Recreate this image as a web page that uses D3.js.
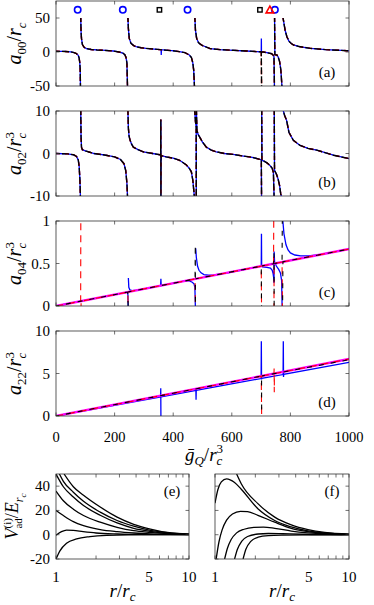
<!DOCTYPE html>
<html>
<head>
<meta charset="utf-8">
<script src="https://cdn.jsdelivr.net/npm/d3@7"></script>
<style>
  body { margin: 0; background: #fff; }
  svg { display: block; }
</style>
</head>
<body>
<svg id="chart" width="374" height="605"></svg>
<script>
// ---------- DATA ----------
var gTicks = [0, 200, 400, 600, 800, 1000];

// (a) a00/rc : background shared by every series, null = break at a pole
var a00_base = [
  [0,1],[30,0.8],[50,0.3],[62,-1],[70,-2.5],[76,-5],[79,-9],[81,-15],[82.5,-25],[83.5,-50],[84,null],
  [84.5,50],[85.5,30],[87,20],[90,11],[96,7],[104,5],[120,3.7],[140,3],[170,2.3],[195,1.5],[215,0],
  [228,-1.5],[235,-4],[239,-8],[242,-16],[244,-50],[244.5,null],
  [245.5,50],[247,35],[250,20],[256,12.7],[265,9.5],[273,7.8],[290,6.3],[307,5.4],[335,4.3],[355,3.5],
  [365,3],[395,2],[421,0.5],[440,-1],[455,-4.4],[462,-8],[467,-16],[470,-27],[472.5,-50],[473,null],
  [474,50],[476,32],[480,20],[486,14],[491,12],[500,9.5],[526,5],[560,3.5],[606,2.5],[650,1.5],[697,0.3],
  [708,0],[720,-1],[736,-2.5],[741,-4.5],[744,-7],[745.5,-50],[745.7,null],[746,50],[747,-4],
  [754,-4.4],[758,-7],[763,-13.7],[767,-25],[769,-36],[771,-50],[772,null],
  [775,50],[778,42],[782,32],[788,22.5],[795,16],[803,12.5],[811,10.3],[830,8],[868,5.4],[920,3.5],
  [993,1.9],[1000,1.8]
];
var a00_blueSpikes  = [[358.6,3.4],[359.2,-4.5],[359.8,3.2],[700.5,0.2],[700.9,20],[701.3,-2],[701.8,0.1]];
var a00_blackSpikes = [[700.5,0.2],[701.7,-50],[701.9,null],[702.3,0.1]];

// markers at the top of (a)
var circG   = [74, 228, 449, 747];
var squareG = [353, 696];
var triG    = [730];
var markerY = 62;

// (b) a02/rc^3
var a02_base = [
  [0,0],[40,-0.1],[60,-0.3],[70,-0.7],[76,-1.5],[79,-3],[81.5,-6],[83.3,-10],[83.8,null],
  [84.5,10],[85.5,4],[87,1.5],[90,0.9],[100,0.6],[115,0.3],[130,0],[170,-0.4],[200,-0.8],[220,-1.4],
  [232,-2.4],[238,-4],[242,-7],[244,-10],[244.5,null],
  [245.5,10],[247,6],[249.5,4],[253,3.1],[258,2.2],[264,1.5],[280,0.9],[298,0.4],[330,0],[355,-0.3],
  [357.3,-0.3],[357.8,8],[358.1,-10],[358.4,-2],[359,-0.5],
  [376,-0.8],[400,-1.1],[422,-1.6],[445,-2.7],[455,-3.5],[462,-4.3],[467,-6.3],[470,-8.5],[472,-10],[472.5,null],
  [473.5,10],[476,7.5],[478.5,6.2],[478.8,-10],[479,null],[479.3,10],[481,5.5],[485,4.5],[490,3.9],
  [500,2.7],[513,1.5],[530,0.8],[547,0.4],[575,0],[604,-0.2],[640,-0.6],[670,-0.9],[696,-1.4],
  [700.8,-1.5],[701.5,-10],[701.7,null],[702.1,10],[702.8,-1.6],
  [710,-1.8],[720,-2.2],[730,-2.8],[738,-3.5],[742,-4.5],[744.3,-10],[744.5,null],[744.9,10],[745.8,-4],
  [752,-4.8],[758,-6],[763,-7.5],[767,-9.5],[773,-11],[773.3,null],
  [773.6,11],[776,10],[780,9],[787,7.8],[795,5],[810,3.1],[833,1.9],[860,1.2],[890,0.8],[947,-0.4],[1000,-1.2]
];

// (c) a04/rc^3
var a04_magenta = [[0,0],[1000,0.67]];
var a04_black = [
  [0,0],[245,0.164],[246.6,-0.05],[246.8,null],[247.2,0.166],[474.5,0.318],[475.5,0.72],[476,-0.05],
  [476.2,null],[476.8,0.32],[700.5,0.469],[701.6,-0.05],[701.8,null],[702.3,0.471],[743,0.498],
  [744,0.62],[744.6,-0.05],[744.8,null],[745.5,0.5],[771.5,0.517],[772.5,1.05],[772.7,null],
  [773.2,-0.05],[774.5,0.52],[1000,0.67]
];
var a04_red = [
  [0,0],[84.2,0.056],[84.7,1.05],[84.9,null],[85.3,-0.05],[85.8,0.057],[245,0.164],[246.6,-0.05],
  [246.8,null],[247.2,0.166],[474.5,0.318],[476,-0.05],[476.2,null],[476.8,0.32],[700.5,0.469],
  [701.6,-0.05],[701.8,null],[702.3,0.471],[742.5,0.497],[743.2,1.05],[743.4,null],[743.8,-0.05],
  [744.5,0.499],[771.5,0.517],[772.8,-0.05],[773,null],[773.5,0.518],[1000,0.67]
];
var a04_blue = [
  [0,0],[243,0.163],[245.5,0.13],[246.5,-0.05],[246.7,null],[247,0.33],[248.5,0.22],[252,0.19],
  [260,0.182],[275,0.186],[300,0.2],[357,0.239],[358,0.32],[358.8,0.25],[360,0.241],[440,0.295],
  [455,0.295],[465,0.28],[471,0.26],[474,0.22],[476,-0.05],[476.2,null],[476.8,0.68],[479,0.57],
  [483,0.47],[488,0.42],[495,0.39],[505,0.37],[520,0.362],[540,0.365],[570,0.38],[600,0.4],
  [700.5,0.469],[701.2,0.85],[701.9,0.47],[705,0.46],[720,0.455],[732,0.445],[738,0.42],[741,0.38],
  [743,0.33],[744,0.27],[744.5,0.64],[746,0.52],[752,0.47],[760,0.43],[766,0.39],[770,0.3],
  [772,-0.05],[772.2,null],[773,1.05],[778,0.85],[785,0.72],[792,0.66],[800,0.625],[815,0.6],
  [835,0.59],[860,0.59],[900,0.605],[1000,0.67]
];

// (d) a22/rc^3
var a22_magenta = [[0,0],[1000,6.7]];
var a22_black = [[0,0],[700.5,4.69],[701.5,4.72],[701.9,-0.2],[702.1,null],[702.5,4.71],[1000,6.62]];
var a22_red = [[0,0],[700.5,4.69],[701.9,-0.2],[702.1,null],[702.5,4.71],[744,4.99],[744.4,5.6],
  [745,2.8],[745.4,4.99],[1000,6.7]];
var a22_blue = [
  [0,0],[357,2.25],[357.5,3.25],[358.1,-0.2],[358.3,null],[358.8,2.26],[477,3.0],[477.4,3.2],
  [478,1.9],[478.6,3.01],[700,4.41],[700.8,8.8],[701.5,4.3],[702.2,4.42],[775,4.88],[775.8,8.8],
  [776.5,4.6],[777.2,4.9],[1000,6.3]
];

// (e) adiabatic potentials, [r/rc, V/E]
var e_curves = [
  [[1,-20],[1.07,-13.3],[1.2,-7],[1.43,-3.5],[1.8,-1.6],[2.4,-0.5],[3.5,-0.1],[10,0]],
  [[1,-0.5],[1.1,2.5],[1.2,3.8],[1.35,3.5],[1.6,2.5],[2,1.4],[2.9,0.6],[4,0.2],[10,0]],
  [[1,20],[1.136,15.8],[1.35,10.8],[1.61,7.5],[2.15,4.2],[2.88,2.5],[3.84,1.4],[5.13,0.6],[7,0.2],[10,0.05]],
  [[1,36],[1.136,28],[1.35,21],[1.61,15.8],[2.15,10.3],[2.88,6.1],[3.84,3.3],[5.13,1.9],[6.87,0.8],[10,0.2]],
  [[1,50],[1.136,39.5],[1.35,31],[1.61,24],[2.15,16],[2.88,9.7],[3.84,5.3],[5.13,2.8],[6.87,1.1],[10,0.3]],
  [[1.06,50],[1.136,44],[1.35,35],[1.61,27.5],[2.15,18.6],[2.88,11.7],[3.84,7],[5.13,3.6],[6.87,1.7],[10,0.4]],
  [[1.15,50],[1.35,39.5],[1.61,32.5],[2.15,22.8],[2.88,14.5],[3.84,8.6],[5.13,4.7],[6.87,1.9],[10,0.5]]
];

// (f)
var f_curves = [
  [[1,26],[1.05,37],[1.115,43.5],[1.22,46],[1.4,43],[1.57,37.5],[2.09,21.4],[2.79,11.7],[3.71,6.4],[4.94,3.1],[6.59,1.4],[10,0.3]],
  [[1.45,50],[1.57,42],[2.09,25.6],[2.79,14.5],[3.71,8.1],[4.94,4.2],[6.59,1.9],[10,0.5]],
  [[1.02,-20],[1.07,-6],[1.13,4],[1.22,12],[1.35,17],[1.55,19.3],[1.75,19],[2.09,16],[2.79,10.3],[3.71,5.3],[4.94,2.5],[6.59,1.1],[10,0.2]],
  [[1.18,-20],[1.24,-11],[1.32,-4],[1.45,1.5],[1.65,4.5],[1.95,6],[2.3,6.3],[2.79,5.3],[3.71,3],[4.94,1.5],[6.59,0.6],[10,0.1]],
  [[1.4,-20],[1.47,-12],[1.58,-5.5],[1.75,-1.5],[2.1,0.6],[2.5,1],[3.2,0.8],[4.5,0.4],[10,0]],
  [[1.62,-20],[1.7,-12],[1.85,-5.5],[2.1,-2],[2.5,-0.7],[3.2,-0.3],[5,-0.1],[10,0]]
];
var rTicks = [1, 5, 10];
var rMinor = [2, 3, 4, 6, 7, 8, 9];
var vTicks = [-20, 0, 20, 40];

// ---------- LAYOUT ----------
var FONT = "'Liberation Serif'";
var svg = d3.select("#chart").style("font-family", FONT);
var axisCol = "#333";
var tickLen = 3.5;
var x = d3.scaleLinear().domain([0, 1000]).range([56, 349]);

function merge(base, extra) {
  return base.concat(extra).sort((p, q) => p[0] - q[0]);
}

function txt(sel) {
  return sel.append("text").style("font-family", FONT);
}

function mathText(sel, parts) {
  parts.forEach(p => {
    sel.append("tspan")
      .text(p[0])
      .style("font-family", FONT)
      .style("font-style", p[1])
      .style("font-size", p[2] + "px")
      .attr("dy", p[3] || 0)
      .attr("dx", p[4] || 0);
  });
}

// box + inward ticks on all four sides
function frame(g, xs, ys, xt, yt, xMinor) {
  var x0 = xs.range()[0], x1 = xs.range()[1];
  var y0 = ys.range()[0], y1 = ys.range()[1];
  (xt.concat(xMinor || [])).forEach(t => {
    g.append("line").attr("x1", xs(t)).attr("x2", xs(t)).attr("y1", y0).attr("y2", y0 - tickLen)
      .attr("stroke", axisCol).attr("stroke-width", 0.7);
    g.append("line").attr("x1", xs(t)).attr("x2", xs(t)).attr("y1", y1).attr("y2", y1 + tickLen)
      .attr("stroke", axisCol).attr("stroke-width", 0.7);
  });
  yt.forEach(t => {
    g.append("line").attr("x1", x0).attr("x2", x0 + tickLen).attr("y1", ys(t)).attr("y2", ys(t))
      .attr("stroke", axisCol).attr("stroke-width", 0.7);
    g.append("line").attr("x1", x1).attr("x2", x1 - tickLen).attr("y1", ys(t)).attr("y2", ys(t))
      .attr("stroke", axisCol).attr("stroke-width", 0.7);
  });
  g.append("rect").attr("x", x0).attr("y", y1).attr("width", x1 - x0).attr("height", y0 - y1)
    .attr("fill", "none").attr("stroke", axisCol).attr("stroke-width", 0.8);
}

function yTickLabels(g, ys, yt, xPos) {
  yt.forEach(d => {
    txt(g).attr("x", xPos).attr("y", ys(d) + 5)
      .attr("text-anchor", "end").style("font-size", "15px")
      .text(String(d));
  });
}

// ---------- TOP PANELS ----------
var lblSup = [["r","italic",20],["3","normal",13,-7],["c","italic",13,12,-6.5]];
var topPanels = [
  { id: "a", top: 1, dom: [-50, 75], ticks: [-50, 0, 50],
    label: [["a","italic",20],["00","normal",13,5],["/","normal",20,-5],["r","italic",20],["c","italic",13,5]],
    series: [
      { d: merge(a00_base, a00_blueSpikes), c: "#0000ff", w: 1.3 },
      { d: merge(a00_base, a00_blackSpikes), c: "#ff0000", w: 1.4, dash: "4,5" },
      { d: merge(a00_base, a00_blackSpikes), c: "#000000", w: 1.4, dash: "7,2", off: 3 }
    ] },
  { id: "b", top: 111, dom: [-10, 10], ticks: [-10, 0, 10],
    label: [["a","italic",20],["02","normal",13,5],["/","normal",20,-5]].concat(lblSup),
    series: [
      { d: a02_base, c: "#0000ff", w: 1.3 },
      { d: a02_base, c: "#ff0000", w: 1.4, dash: "4,5" },
      { d: a02_base, c: "#000000", w: 1.4, dash: "7,2", off: 3 }
    ] },
  { id: "c", top: 221, dom: [0, 1], ticks: [0, 0.5, 1],
    label: [["a","italic",20],["04","normal",13,5],["/","normal",20,-5]].concat(lblSup),
    series: [
      { d: a04_blue, c: "#0000ff", w: 1.3 },
      { d: a04_magenta, c: "#ff00ff", w: 2.4 },
      { d: a04_red, c: "#ff0000", w: 1.1, dash: "7,5" },
      { d: a04_black, c: "#000000", w: 1.1, dash: "5,7", off: 2 }
    ] },
  { id: "d", top: 331, dom: [0, 10], ticks: [0, 5, 10],
    label: [["a","italic",20],["22","normal",13,5],["/","normal",20,-5]].concat(lblSup),
    series: [
      { d: a22_blue, c: "#0000ff", w: 1.3 },
      { d: a22_magenta, c: "#ff00ff", w: 2.4 },
      { d: a22_red, c: "#ff0000", w: 1.1, dash: "7,5" },
      { d: a22_black, c: "#000000", w: 1.1, dash: "5,7", off: 2 }
    ] }
];

var panelH = 85;

topPanels.forEach(p => {
  var y = d3.scaleLinear().domain(p.dom).range([p.top + panelH, p.top]);
  var g = svg.append("g");

  g.append("clipPath").attr("id", "clip-" + p.id)
    .append("rect").attr("x", 56).attr("y", p.top).attr("width", 293).attr("height", panelH);

  var line = d3.line()
    .defined(d => d[1] != null)
    .x(d => x(d[0]))
    .y(d => y(d[1]));

  var plot = g.append("g").attr("clip-path", "url(#clip-" + p.id + ")");
  p.series.forEach(s => {
    plot.append("path")
      .attr("d", line(s.d))
      .attr("fill", "none")
      .attr("stroke", s.c)
      .attr("stroke-width", s.w)
      .attr("stroke-dasharray", s.dash || null)
      .attr("stroke-dashoffset", s.off || 0);
  });

  if (p.id === "a") {
    plot.selectAll(null).data(circG).enter().append("circle")
      .attr("cx", d => x(d)).attr("cy", y(markerY)).attr("r", 3.2)
      .attr("fill", "none").attr("stroke", "#0000ff").attr("stroke-width", 1.6);
    plot.selectAll(null).data(squareG).enter().append("rect")
      .attr("x", d => x(d) - 2.2).attr("y", y(markerY) - 2.2).attr("width", 4.4).attr("height", 4.4)
      .attr("fill", "none").attr("stroke", "#000").attr("stroke-width", 1.4);
    plot.selectAll(null).data(triG).enter().append("path")
      .attr("d", d => {
        var cx = x(d), cy = y(markerY);
        return "M" + (cx - 3.8) + "," + (cy + 3) + "L" + (cx + 3.8) + "," + (cy + 3) + "L" + cx + "," + (cy - 3.8) + "Z";
      })
      .attr("fill", "none").attr("stroke", "#ff0000").attr("stroke-width", 1.6);
  }

  frame(g, x, y, gTicks, p.ticks);
  yTickLabels(g, y, p.ticks, 50);

  var lab = txt(g)
    .attr("transform", "translate(21," + (p.top + panelH / 2) + ") rotate(-90)")
    .attr("text-anchor", "middle");
  mathText(lab, p.label);

  txt(g).attr("x", 327).attr("y", p.top + panelH - 9)
    .attr("text-anchor", "middle").style("font-size", "15px")
    .text("(" + p.id + ")");

  if (p.id === "d") {
    gTicks.forEach(d => {
      txt(g).attr("x", x(d)).attr("y", 442)
        .attr("text-anchor", "middle").style("font-size", "14.5px")
        .text(String(d));
    });
    var xl = txt(svg).attr("x", 204).attr("y", 461).attr("text-anchor", "middle");
    mathText(xl, [["\u1E21","italic",19],["Q","italic",13,4],["/","normal",19,-4],["r","italic",19],["3","normal",13,-8],["c","italic",13,12,-6.5]]);
  }
});

// ---------- BOTTOM PANELS ----------
var bottomPanels = [
  { id: "e", x0: 56, x1: 189, curves: e_curves },
  { id: "f", x0: 215, x1: 349, curves: f_curves }
];
var bTop = 474, bBot = 559;
var v = d3.scaleLinear().domain([-20, 50]).range([bBot, bTop]);

bottomPanels.forEach(p => {
  var r = d3.scaleLog().domain([1, 10]).range([p.x0, p.x1]);
  var g = svg.append("g");

  g.append("clipPath").attr("id", "clip-" + p.id)
    .append("rect").attr("x", p.x0).attr("y", bTop).attr("width", p.x1 - p.x0).attr("height", bBot - bTop);

  var line = d3.line()
    .x(d => r(d[0]))
    .y(d => v(d[1]))
    .curve(d3.curveMonotoneX);

  g.append("g").attr("clip-path", "url(#clip-" + p.id + ")")
    .selectAll("path").data(p.curves).enter().append("path")
    .attr("d", line)
    .attr("fill", "none").attr("stroke", "#000").attr("stroke-width", 1.3);

  frame(g, r, v, rTicks, vTicks, rMinor);

  rTicks.forEach(d => {
    txt(g).attr("x", r(d)).attr("y", 582)
      .attr("text-anchor", "middle").style("font-size", "15px")
      .text(String(d));
  });

  var xl = txt(g).attr("x", (p.x0 + p.x1) / 2).attr("y", 597).attr("text-anchor", "middle");
  mathText(xl, [["r","italic",19],["/","normal",19],["r","italic",19],["c","italic",13,4]]);

  txt(g).attr("x", p.x1 - 17).attr("y", bTop + 22)
    .attr("text-anchor", "middle").style("font-size", "15px")
    .text("(" + p.id + ")");

  if (p.id === "e") {
    yTickLabels(g, v, vTicks, 50);
    var yl = txt(g)
      .attr("transform", "translate(18," + ((bTop + bBot) / 2) + ") rotate(-90)")
      .attr("text-anchor", "middle");
    mathText(yl, [["V","italic",18],["(i)","normal",11,-7],["ad","normal",11,11,-10.4],["/","normal",18,-4],["E","italic",18],["r","italic",12,5],["c","italic",9,3]]);
  }
});
</script>
</body>
</html>
